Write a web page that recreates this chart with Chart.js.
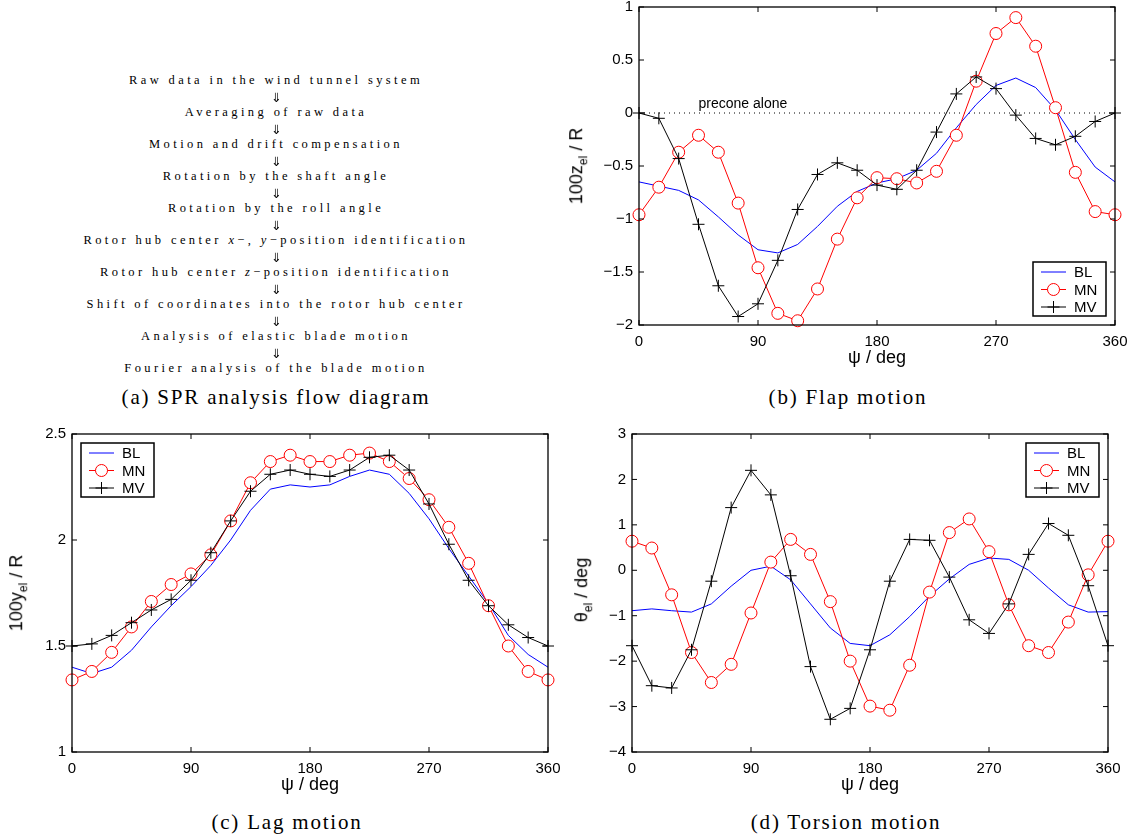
<!DOCTYPE html>
<html>
<head>
<meta charset="utf-8">
<script src="https://cdn.jsdelivr.net/npm/chart.js@4.4.0/dist/chart.umd.min.js"></script>
<style>
body{margin:0;width:1136px;height:838px;background:#fff;position:relative;overflow:hidden;font-family:"Liberation Sans",Arial,sans-serif;color:#000}
.box{position:absolute}
canvas{display:block}
.flow{position:absolute;left:76px;width:400px;top:72px;text-align:center;font-family:"Liberation Serif",serif;font-size:12.5px;letter-spacing:3.4px;line-height:16px;white-space:nowrap}
.flow .ar{font-family:"DejaVu Sans Mono","DejaVu Sans",sans-serif;font-size:17px;line-height:16px;letter-spacing:0;color:#000;filter:grayscale(1) brightness(0)}
.cap{position:absolute;font-family:"Liberation Serif",serif;font-size:21px;letter-spacing:1.8px;transform:translate(-50%,-50%);white-space:nowrap}
.ytitle{position:absolute;font-size:18px;transform:translate(-50%,-50%) rotate(-90deg);white-space:nowrap}
.ytitle sub{font-size:12px}
</style>
</head>
<body>

<div class="flow" id="flow"></div>
<div class="cap" style="left:276px;top:397px">(a) SPR analysis flow diagram</div>

<div class="box" style="left:560px;top:0px"><canvas id="flap" width="576" height="380"></canvas></div>
<div class="ytitle" style="left:578px;top:166px">100z<sub>el</sub> / R</div>
<div class="cap" style="left:848px;top:397px">(b) Flap motion</div>

<div class="box" style="left:0px;top:420px"><canvas id="lag" width="560" height="380"></canvas></div>
<div class="ytitle" style="left:18px;top:593px">100y<sub>el</sub> / R</div>
<div class="cap" style="left:287px;top:822px">(c) Lag motion</div>

<div class="box" style="left:570px;top:420px"><canvas id="tors" width="566" height="380"></canvas></div>
<div class="ytitle" style="left:583px;top:590px">&theta;<sub>el</sub> / deg</div>
<div class="cap" style="left:846px;top:822px">(d) Torsion motion</div>

<script>
/* ---------- data ---------- */
const FLOW_STEPS = [
  'Raw data in the wind tunnel system',
  'Averaging of raw data',
  'Motion and drift compensation',
  'Rotation by the shaft angle',
  'Rotation by the roll angle',
  'Rotor hub center <i>x</i>\u2212, <i>y</i>\u2212position identification',
  'Rotor hub center <i>z</i>\u2212position identification',
  'Shift of coordinates into the rotor hub center',
  'Analysis of elastic blade motion',
  'Fourier analysis of the blade motion'
];

const PSI = [0,15,30,45,60,75,90,105,120,135,150,165,180,195,210,225,240,255,270,285,300,315,330,345,360];
const PSI_TICKS = [0,90,180,270,360];

const FLAP_BL = [-0.65,-0.69,-0.73,-0.82,-0.98,-1.15,-1.29,-1.32,-1.24,-1.07,-0.88,-0.74,-0.66,-0.62,-0.54,-0.38,-0.14,0.08,0.26,0.33,0.24,0.03,-0.25,-0.51,-0.65];
const FLAP_MN = [-0.96,-0.70,-0.37,-0.21,-0.37,-0.85,-1.46,-1.89,-1.96,-1.66,-1.19,-0.80,-0.61,-0.62,-0.66,-0.55,-0.21,0.30,0.75,0.90,0.63,0.05,-0.56,-0.93,-0.96];
const FLAP_MV = [0.00,-0.05,-0.43,-1.05,-1.63,-1.92,-1.80,-1.39,-0.91,-0.58,-0.47,-0.54,-0.68,-0.72,-0.54,-0.18,0.18,0.34,0.23,-0.02,-0.24,-0.30,-0.22,-0.08,0.00];
const PRECONE = [0, 0];

const LAG_BL = [1.40,1.37,1.40,1.48,1.59,1.69,1.78,1.88,2.00,2.14,2.24,2.26,2.25,2.26,2.30,2.33,2.31,2.22,2.10,1.96,1.83,1.70,1.55,1.46,1.40];
const LAG_MN = [1.34,1.38,1.47,1.59,1.71,1.79,1.84,1.93,2.09,2.27,2.37,2.40,2.37,2.37,2.40,2.41,2.37,2.29,2.19,2.06,1.89,1.69,1.50,1.38,1.34];
const LAG_MV = [1.50,1.51,1.55,1.61,1.67,1.72,1.81,1.94,2.09,2.23,2.31,2.33,2.31,2.30,2.33,2.39,2.40,2.33,2.17,1.98,1.81,1.69,1.60,1.54,1.50];

const TOR_BL = [-0.89,-0.85,-0.89,-0.92,-0.74,-0.35,0.00,0.09,-0.21,-0.74,-1.27,-1.61,-1.66,-1.42,-1.02,-0.57,-0.19,0.13,0.27,0.24,0.00,-0.39,-0.76,-0.92,-0.91];
const TOR_MN = [0.64,0.49,-0.54,-1.81,-2.47,-2.07,-0.94,0.18,0.68,0.35,-0.69,-2.00,-2.99,-3.08,-2.09,-0.48,0.83,1.13,0.41,-0.76,-1.66,-1.81,-1.14,-0.10,0.64];
const TOR_MV = [-1.66,-2.54,-2.59,-1.75,-0.24,1.38,2.20,1.66,-0.12,-2.12,-3.28,-3.04,-1.75,-0.24,0.68,0.66,-0.15,-1.09,-1.39,-0.74,0.35,1.03,0.77,-0.34,-1.66];

/* ---------- flow diagram (a) ---------- */
const flow = document.getElementById('flow');
flow.innerHTML = FLOW_STEPS.map(s => '<div>' + s + '</div>').join('<div class="ar">\u21D3</div>');

/* ---------- plugins ---------- */
// box round the axes with inward ticks on all four sides
const matlabBox = {
  id: 'matlabBox',
  afterDatasetsDraw(chart){
    const {ctx, chartArea:a, scales:{x, y}} = chart;
    const tl = 5;
    ctx.save();
    ctx.strokeStyle = '#000';
    ctx.lineWidth = 1.3;
    ctx.strokeRect(a.left, a.top, a.right - a.left, a.bottom - a.top);
    ctx.lineWidth = 1;
    ctx.beginPath();
    x.ticks.forEach(t => {
      const px = x.getPixelForValue(t.value);
      ctx.moveTo(px, a.bottom); ctx.lineTo(px, a.bottom - tl);
      ctx.moveTo(px, a.top);    ctx.lineTo(px, a.top + tl);
    });
    y.ticks.forEach(t => {
      const py = y.getPixelForValue(t.value);
      ctx.moveTo(a.left, py);  ctx.lineTo(a.left + tl, py);
      ctx.moveTo(a.right, py); ctx.lineTo(a.right - tl, py);
    });
    ctx.stroke();
    ctx.restore();
  }
};

// MATLAB style legend box
const boxLegend = {
  id: 'boxLegend',
  afterDraw(chart, args, opts){
    if(!opts.corner) return;
    const {ctx, chartArea:a} = chart;
    const w = 73, h = 54, m = 9;
    const bx = opts.corner.includes('r') ? a.right - m - w : a.left + m;
    const by = opts.corner.includes('b') ? a.bottom - m - h : a.top + m;
    ctx.save();
    ctx.fillStyle = '#fff';
    ctx.fillRect(bx, by, w, h);
    ctx.strokeStyle = '#000';
    ctx.lineWidth = 1.5;
    ctx.strokeRect(bx, by, w, h);
    opts.items.forEach((di, i) => {
      const ds = chart.data.datasets[di];
      const yy = by + 10 + i * 17.5;
      ctx.strokeStyle = ds.borderColor;
      ctx.lineWidth = 1;
      ctx.beginPath(); ctx.moveTo(bx + 8, yy); ctx.lineTo(bx + 33, yy); ctx.stroke();
      if(ds.pointRadius > 0){
        const cx = bx + 20.5;
        ctx.beginPath();
        if(ds.pointStyle === 'circle'){
          ctx.fillStyle = '#fff';
          ctx.arc(cx, yy, 6, 0, Math.PI * 2);
          ctx.fill();
        } else {
          ctx.moveTo(cx - 6, yy); ctx.lineTo(cx + 6, yy);
          ctx.moveTo(cx, yy - 6); ctx.lineTo(cx, yy + 6);
        }
        ctx.stroke();
      }
      ctx.fillStyle = '#000';
      ctx.font = '15px "Liberation Sans", Arial, sans-serif';
      ctx.textBaseline = 'middle';
      ctx.fillText(ds.label, bx + 41, yy + 1);
    });
    ctx.restore();
  }
};

// text label of the dotted precone line
const preconeLabel = {
  id: 'preconeLabel',
  afterDatasetsDraw(chart, args, opts){
    if(!opts.text) return;
    const {ctx, scales:{x, y}} = chart;
    ctx.save();
    ctx.fillStyle = '#000';
    ctx.font = '14px "Liberation Sans", Arial, sans-serif';
    ctx.textBaseline = 'alphabetic';
    ctx.fillText(opts.text, x.getPixelForValue(opts.at[0]), y.getPixelForValue(opts.at[1]) - 5);
    ctx.restore();
  }
};

Chart.defaults.font.family = '"Liberation Sans", Arial, sans-serif';
Chart.defaults.color = '#000';

const xy = arr => PSI.map((p, i) => ({x: p, y: arr[i]}));
const minus = v => String(v).replace('-', '\u2212');

function motionChart(id, bl, mn, mv, y, lay){
  const datasets = [
    { label:'BL', data: xy(bl), borderColor:'#0000ff', borderWidth:1, pointRadius:0, order:3 },
    { label:'MN', data: xy(mn), borderColor:'#ff0000', borderWidth:1,
      pointStyle:'circle', pointRadius:6, pointBorderColor:'#ff0000', pointBackgroundColor:'#fff',
      pointBorderWidth:1, order:2 },
    { label:'MV', data: xy(mv), borderColor:'#000', borderWidth:1,
      pointStyle:'cross', pointRadius:6, pointBorderColor:'#000', pointBorderWidth:1, order:1 }
  ];
  if(lay.precone){
    datasets.push({ label:'precone', data: [{x:0, y:PRECONE[0]}, {x:360, y:PRECONE[1]}],
      borderColor:'#000', borderWidth:1, borderDash:[1,4], pointRadius:0, order:4 });
  }
  return new Chart(document.getElementById(id), {
    type: 'line',
    data: { datasets },
    options: {
      responsive: false, animation: false, devicePixelRatio: 1,
      elements: { line: { tension: 0 } },
      datasets: { line: { clip: 10 } },
      layout: { padding: { top: lay.top, right: lay.right, left: 0, bottom: 0 } },
      plugins: {
        legend: { display: false },
        tooltip: { enabled: false },
        boxLegend: { corner: lay.corner, items: [0, 1, 2] },
        preconeLabel: lay.precone ? { text: 'precone alone', at: [45, 0] } : {}
      },
      scales: {
        x: {
          type: 'linear', min: 0, max: 360,
          afterBuildTicks: s => { s.ticks = PSI_TICKS.map(v => ({value: v})); },
          ticks: { padding: 8, font: { size: 15 }, maxRotation: 0, autoSkip: false },
          grid: { display: false, drawTicks: false },
          border: { display: false },
          title: { display: true, text: '\u03C8 / deg', font: { size: 18 }, padding: { top: 0, bottom: lay.titlePad } },
          afterFit: s => { s.height = lay.xh; s.paddingLeft = 0; s.paddingRight = 0; }
        },
        y: {
          min: y.min, max: y.max,
          ticks: { stepSize: y.step, padding: 6, font: { size: 15 }, callback: minus },
          grid: { display: false, drawTicks: false },
          border: { display: false },
          afterFit: s => { s.width = lay.yw; s.paddingTop = 0; s.paddingBottom = 0; }
        }
      }
    },
    plugins: [matlabBox, boxLegend, preconeLabel]
  });
}

motionChart('flap', FLAP_BL, FLAP_MN, FLAP_MV, {min:-2, max:1, step:0.5},
  {top:7, right:21, yw:79, xh:55, titlePad:11, corner:'br', precone:true});
motionChart('lag', LAG_BL, LAG_MN, LAG_MV, {min:1, max:2.5, step:0.5},
  {top:14, right:12, yw:72, xh:48, titlePad:4, corner:'tl'});
motionChart('tors', TOR_BL, TOR_MN, TOR_MV, {min:-4, max:3, step:1},
  {top:14, right:28, yw:62, xh:48, titlePad:4, corner:'tr'});
</script>
</body>
</html>
